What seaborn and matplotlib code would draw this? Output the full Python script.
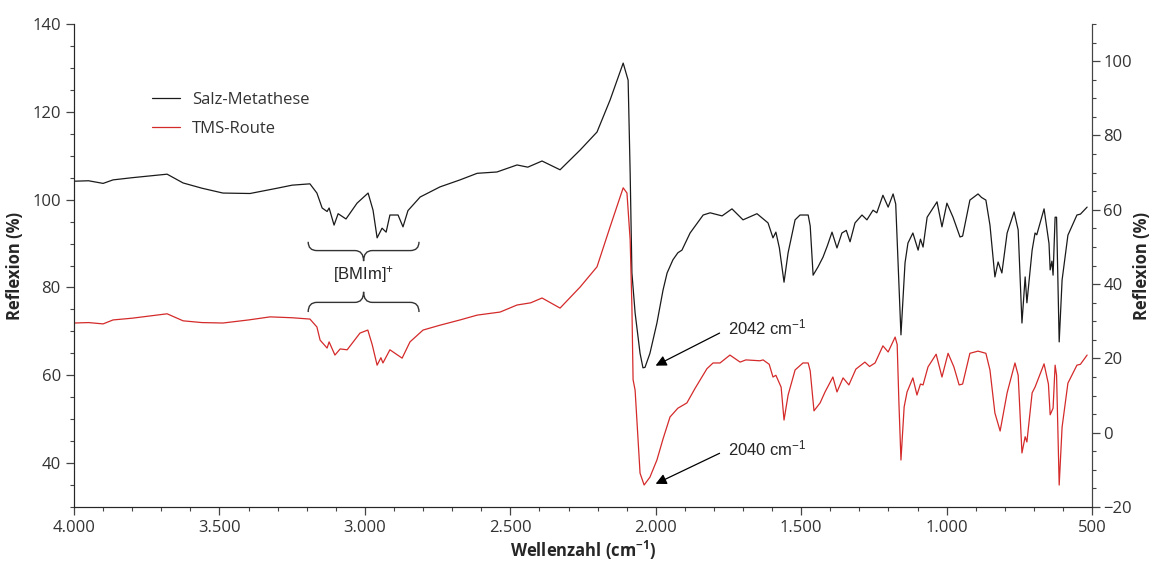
import numpy as np
import pandas as pd
import matplotlib
matplotlib.use("Agg")
import matplotlib.pyplot as plt
import seaborn as sns
from matplotlib.path import Path
from matplotlib.patches import PathPatch
from matplotlib.ticker import MultipleLocator, FuncFormatter

# --- data (wavenumber cm^-1, reflexion %) ---
salz_wn = [4000, 3950, 3900, 3866, 3800, 3740, 3680, 3625, 3560, 3488, 3395, 3302, 3250, 3189,
           3165, 3147, 3130, 3123,
           3106, 3092, 3065, 3027, 2989, 2972, 2958, 2941, 2927, 2914, 2886, 2869, 2852,
           2810, 2742, 2673, 2614, 2546, 2477, 2440, 2391, 2329, 2260, 2202, 2157, 2112,
           2095, 2088, 2082, 2071, 2054, 2044, 2037, 2020, 1996, 1975, 1961, 1941, 1924,
           1910, 1882, 1837, 1813, 1772, 1738, 1700, 1652, 1614, 1597, 1587, 1575, 1559,
           1545, 1521, 1504, 1476, 1469, 1459, 1442, 1425, 1410, 1394, 1377, 1360, 1345,
           1332, 1315, 1291, 1274, 1253, 1240, 1219, 1201, 1184, 1175, 1167, 1157, 1143,
           1133, 1116, 1098, 1090, 1081, 1067, 1033, 1016, 999, 978, 954, 945, 920, 892,
           880, 865, 851, 834, 823, 810, 792, 768, 754, 741, 730, 724, 706, 696, 690, 665,
           648, 644, 638, 634, 627, 622, 613, 603, 583, 552, 540, 517]
salz_val = [104.2, 104.3, 103.7, 104.5, 105.0, 105.4, 105.8, 103.8, 102.6, 101.5, 101.4, 102.6, 103.3, 103.6,
            101.5, 98.1, 97.3, 98.1,
            94.2, 96.8, 95.6, 99.2, 101.5, 97.6, 91.3, 93.5, 92.6, 96.5, 96.5, 93.8, 97.5,
            100.6, 102.9, 104.5, 106.0, 106.3, 107.9, 107.4, 108.8, 106.8, 111.3, 115.4, 122.7, 131.1,
            127.2, 106.0, 83.3, 74.2, 65.0, 61.7, 61.8, 65.0, 71.9, 79.4, 83.3, 86.3, 87.9,
            88.5, 92.4, 96.5, 97.0, 96.3, 97.9, 95.4, 96.8, 94.7, 91.3, 92.6, 89.0, 81.2,
            87.9, 95.4, 96.5, 96.5, 94.0, 82.8, 84.7, 86.9, 89.5, 92.6, 89.0, 92.4, 93.0,
            90.4, 94.7, 96.5, 95.4, 97.6, 97.0, 101.0, 98.3, 101.3, 99.0, 85.6, 69.2, 85.6,
            90.1, 92.4, 88.5, 91.0, 89.2, 96.0, 99.5, 93.8, 99.2, 96.0, 91.5, 91.7, 99.9, 101.3,
            100.5, 99.9, 94.2, 82.4, 85.8, 83.3, 92.4, 97.2, 93.1, 71.9, 82.4, 76.5, 88.5, 92.4, 92.0, 97.9,
            90.0, 84.0, 86.0, 82.8, 96.0, 96.0, 67.6, 81.7, 91.9, 96.5, 96.7, 98.3]

tms_wn = [4000, 3950, 3900, 3866, 3800, 3740, 3680, 3625, 3560, 3488, 3400, 3326, 3250, 3189,
          3165, 3154, 3130, 3123, 3103,
          3085, 3061, 3017, 2990, 2975, 2958, 2945, 2938, 2914, 2872, 2845, 2800, 2742,
          2673, 2614, 2535, 2477, 2430, 2391, 2329, 2260, 2202, 2157, 2112, 2099, 2088,
          2082, 2078, 2071, 2054, 2040, 2020, 1996, 1975, 1951, 1924, 1893, 1872, 1865,
          1824, 1803, 1779, 1745, 1710, 1690, 1642, 1631, 1610, 1597, 1587, 1569, 1559,
          1545, 1521, 1494, 1476, 1469, 1456, 1435, 1418, 1391, 1377, 1356, 1336, 1312,
          1281, 1265, 1246, 1219, 1201, 1177, 1170, 1164, 1157, 1146, 1136, 1116, 1102,
          1090, 1081, 1064, 1036, 1016, 995, 975, 957, 945, 920, 892, 865, 851, 834, 816,
          792, 765, 754, 741, 730, 724, 706, 696, 665, 650, 644, 634, 627, 622, 613, 603,
          583, 552, 540, 517]
tms_val = [71.9, 72.0, 71.7, 72.6, 73.0, 73.5, 74.0, 72.4, 72.0, 71.9, 72.6, 73.3, 73.1, 72.8,
           71.0, 68.0, 66.2, 67.6, 64.6,
           66.0, 65.8, 69.6, 70.3, 67.0, 62.3, 64.0, 62.8, 65.8, 63.9, 67.6, 70.3, 71.4,
           72.6, 73.7, 74.4, 76.0, 76.5, 77.6, 75.3, 80.1, 84.7, 93.8, 102.7, 101.5, 90.8,
           75.6, 59.0, 56.6, 37.7, 35.0, 36.8, 40.7, 45.5, 50.5, 52.5, 53.7, 56.2, 57.0,
           61.5, 62.8, 62.8, 64.6, 63.0, 63.5, 63.3, 63.5, 62.5, 59.6, 60.0, 57.3, 49.8,
           55.5, 61.2, 62.8, 62.8, 61.0, 51.9, 53.7, 56.2, 59.6, 56.2, 59.4, 57.8, 61.4,
           63.0, 62.0, 62.8, 66.7, 65.3, 68.7, 67.0, 53.7, 40.7, 52.8, 56.2, 59.4, 55.5,
           58.0, 57.8, 61.9, 64.8, 59.6, 65.0, 61.9, 57.8, 58.0, 65.0, 65.5, 65.0, 61.2, 51.4, 47.3,
           56.0, 62.8, 60.0, 42.3, 46.0, 44.8, 56.0, 57.3, 62.6, 58.0, 51.0, 52.5, 62.3, 60.0, 35.0, 48.2,
           58.2, 62.3, 62.5, 64.6]

series_names = ["Salz-Metathese", "TMS-Route"]
series_colors = ["#1a1a1a", "#d42a2a"]

df = pd.concat([
    pd.DataFrame({"wn": salz_wn, "val": salz_val, "Probe": series_names[0]}),
    pd.DataFrame({"wn": tms_wn, "val": tms_val, "Probe": series_names[1]}),
])

sns.set_style("ticks")
plt.rcParams["font.family"] = ["Open Sans", "DejaVu Sans"]
plt.rcParams["mathtext.default"] = "regular"

fig = plt.figure(figsize=(11.55, 5.64), dpi=100)
ax = fig.add_axes([0.0641, 0.1011, 0.8814, 0.8563])

sns.lineplot(data=df, x="wn", y="val", hue="Probe", palette=series_colors,
             estimator=None, sort=False, lw=0.9, ax=ax)

ax.set_xlim(4000, 500)
ax.set_ylim(30, 140)
ax.xaxis.set_major_locator(MultipleLocator(500))
ax.xaxis.set_minor_locator(MultipleLocator(100))
ax.yaxis.set_major_locator(MultipleLocator(20))
ax.yaxis.set_minor_locator(MultipleLocator(5))
ax.xaxis.set_major_formatter(FuncFormatter(lambda v, p: f"{int(v):,}".replace(",", ".")))

grey = "#444444"
for s in ["left", "bottom", "right"]:
    ax.spines[s].set_color(grey)
ax.spines["top"].set_visible(False)
ax.tick_params(which="major", length=6, width=0.9, color=grey, labelsize=12, labelcolor="#333333")
ax.tick_params(which="minor", length=3, width=0.8, color=grey)

ax.set_xlabel("Wellenzahl (cm$^{-1}$)", fontsize=12, fontweight="bold", labelpad=2)
ax.set_ylabel("Reflexion (%)", fontsize=12, fontweight="bold", labelpad=6)

ax2 = ax.twinx()
ax2.set_ylim(-20, 110)
ax2.yaxis.set_major_locator(MultipleLocator(20))
ax2.yaxis.set_minor_locator(MultipleLocator(5))
ax2.spines["top"].set_visible(False)
ax2.spines["right"].set_color(grey)
ax2.tick_params(which="major", length=6, width=0.9, color=grey, labelsize=12, labelcolor="#333333",
                pad=2)
ax2.tick_params(which="minor", length=3, width=0.8, color=grey)
ax2.set_ylabel("Reflexion (%)", fontsize=12, fontweight="bold", labelpad=1)

leg = ax.legend(loc="upper left", bbox_to_anchor=(0.062, 0.89), frameon=False,
                fontsize=12, handlelength=1.7, handletextpad=0.7, labelspacing=0.75)
for t in leg.get_texts():
    t.set_color("#333333")


def brace(ax, x1, x2, y_end, y_bar, y_tip, dx=30):
    s = dx * np.sign(x2 - x1)
    xm = (x1 + x2) / 2
    verts = [(x1, y_end), (x1, y_bar), (x1 + s, y_bar), (xm - s, y_bar),
             (xm, y_bar), (xm, y_tip), (xm, y_bar), (xm + s, y_bar),
             (x2 - s, y_bar), (x2, y_bar), (x2, y_end)]
    codes = [Path.MOVETO, Path.CURVE3, Path.CURVE3, Path.LINETO,
             Path.CURVE3, Path.CURVE3, Path.CURVE3, Path.CURVE3,
             Path.LINETO, Path.CURVE3, Path.CURVE3]
    ax.add_patch(PathPatch(Path(verts, codes), fill=False, lw=1.0, edgecolor="#333333"))


brace(ax, 3195, 2814, 90.4, 88.4, 86.0)
brace(ax, 3195, 2814, 74.4, 76.6, 79.0)
arial = ["Liberation Sans", "DejaVu Sans"]
ax.text(3005, 82.9, "[BMIm]$^{+}$", ha="center", va="center", fontsize=12, family=arial)

arrow = dict(arrowstyle="-|>", color="black", lw=0.9, mutation_scale=16)
ax.annotate("", xy=(2009, 61.9), xytext=(1772, 69.9), arrowprops=arrow)
ax.annotate("", xy=(2009, 35.0), xytext=(1772, 42.5), arrowprops=arrow)
ax.text(1752, 70.8, "2042 cm$^{-1}$", ha="left", va="center", fontsize=12, family=arial)
ax.text(1752, 43.4, "2040 cm$^{-1}$", ha="left", va="center", fontsize=12, family=arial)

fig.savefig("out.png", dpi=100)
